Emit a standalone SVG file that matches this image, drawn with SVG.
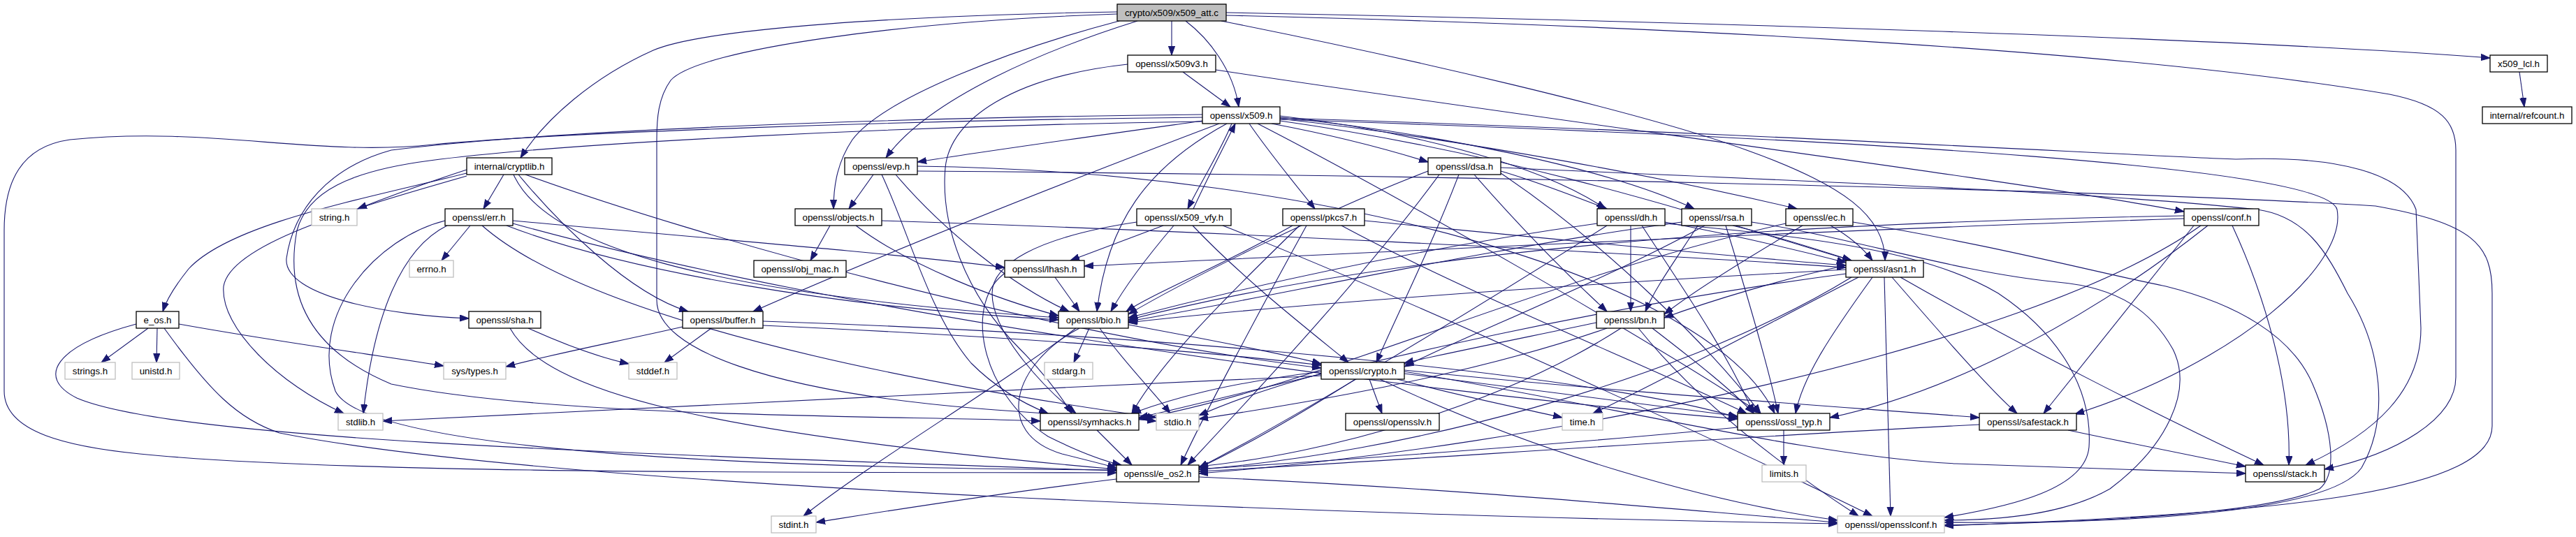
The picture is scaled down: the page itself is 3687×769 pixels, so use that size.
<svg xmlns="http://www.w3.org/2000/svg" width="3687" height="769" viewBox="0 0 3687 769">
<style>
.n rect{fill:#ffffff;stroke:#000000;stroke-width:1.3}
.n.x rect{stroke:#bfbfbf}
.n.r rect{fill:#bfbfbf}
.n text{font-family:"Liberation Sans",Arial,Helvetica,sans-serif;font-size:13.33px;text-anchor:middle;fill:#000000}
#edges path{fill:none;stroke:#191970;stroke-width:1.1;marker-end:url(#a)}
</style>
<defs>
<marker id="a" markerUnits="userSpaceOnUse" markerWidth="14" markerHeight="11" refX="13" refY="5" orient="auto">
<path d="M0,0.4 L13,5 L0,9.6 z" fill="#191970" stroke="#191970" stroke-width="1"/>
</marker>
</defs>
<rect x="0" y="0" width="3687" height="769" fill="#ffffff"/>
<g id="edges">
<path d="M1677,30 L1677,79"/>
<path d="M1697,30 C1730,55 1765,100 1773,153"/>
<path d="M1628,30 C1500,70 1330,140 1268,226"/>
<path d="M1602,30 C1450,70 1265,140 1220,200 C1200,230 1193,262 1193,299"/>
<path d="M1599,17 C1300,22 1010,40 935,72 C850,110 780,170 745,226"/>
<path d="M1599,20 C1300,30 1000,70 960,115 C942,140 940,170 940,200 L940,430 C940,500 1100,560 1400,585 C1500,593 1600,598 1655,603"/>
<path d="M1755,18 C2400,30 3200,55 3564,83"/>
<path d="M1755,22 C2300,35 3000,65 3420,135 C3495,150 3515,175 3515,215 L3515,540 C3515,600 3430,650 3327,672"/>
<path d="M1748,30 C2000,80 2350,160 2500,215 C2640,265 2698,310 2698,373"/>
<path d="M1693,103 L1761,153"/>
<path d="M1740,100 C2200,170 2900,260 3126,303"/>
<path d="M1614,92 C1450,110 1360,170 1353,240 C1346,320 1380,420 1460,500 C1490,530 1515,562 1534,592"/>
<path d="M3606,103 L3613,153"/>
<path d="M1721,173 C1600,190 1420,215 1313,232"/>
<path d="M1763,177 C1745,220 1718,262 1700,299"/>
<path d="M1708,299 C1728,255 1752,210 1768,177"/>
<path d="M1788,177 C1812,212 1852,262 1882,299"/>
<path d="M1820,177 C1900,192 1980,212 2044,232"/>
<path d="M1832,166 C2000,185 2200,232 2298,299"/>
<path d="M1832,168 C2050,190 2300,240 2425,299"/>
<path d="M1832,170 C2100,200 2400,258 2572,299"/>
<path d="M1832,173 C2200,225 2500,330 2650,373"/>
<path d="M1756,177 C1640,240 1585,320 1570,446"/>
<path d="M1745,177 C1500,270 1250,370 1078,446"/>
<path d="M1721,164 C1300,168 800,185 560,215 C470,240 420,300 410,370 C405,425 560,452 671,456"/>
<path d="M1721,168 C1300,172 800,190 620,207 C450,225 300,180 100,200 C30,210 6,260 6,330 L6,560 C6,620 100,640 200,650 C500,680 1200,676 1598,677"/>
<path d="M1721,174 C1300,180 800,205 615,230 C500,245 440,275 425,330 C408,420 440,500 560,550 C800,600 1300,595 1489,603"/>
<path d="M1800,177 C2000,280 2350,480 2520,592"/>
<path d="M1832,171 C2700,200 3330,240 3345,300 C3360,380 3200,520 2970,593"/>
<path d="M1832,169 C2500,190 3000,220 3200,228 C3350,222 3440,250 3458,300 L3465,470 C3465,560 3400,620 3300,666"/>
<path d="M721,250 L692,299"/>
<path d="M668,248 C520,285 330,320 270,385 C250,410 238,430 233,446"/>
<path d="M668,252 C500,300 330,350 320,410 C315,470 400,550 492,592"/>
<path d="M668,243 C610,262 560,280 512,299"/>
<path d="M752,250 C1000,340 1500,480 1891,527"/>
<path d="M742,250 C800,320 900,420 985,446"/>
<path d="M735,250 C780,350 1000,420 1515,455"/>
<path d="M1250,250 L1215,299"/>
<path d="M1282,250 C1350,330 1450,410 1530,446"/>
<path d="M1262,250 C1300,330 1330,450 1390,520 C1430,560 1470,580 1500,592"/>
<path d="M1313,238 C1900,245 2450,400 2540,592"/>
<path d="M1313,245 C2000,250 3000,270 3400,295 C3540,320 3567,350 3567,420 L3567,610 C3567,700 3300,735 2783,753"/>
<path d="M1188,323 L1160,373"/>
<path d="M1262,316 C1700,330 2300,360 2642,383"/>
<path d="M1225,323 C1300,380 1430,430 1515,452"/>
<path d="M673,323 L632,373"/>
<path d="M734,316 C1000,340 1300,365 1438,383"/>
<path d="M640,323 C575,355 535,450 520,592"/>
<path d="M690,323 C800,420 1100,520 1655,598"/>
<path d="M637,316 C540,340 440,450 480,560 C520,640 1000,670 1598,673"/>
<path d="M734,320 C1200,450 2000,560 2487,600"/>
<path d="M725,323 C900,390 1200,440 1515,458"/>
<path d="M1665,323 L1532,373"/>
<path d="M1680,323 C1640,370 1610,410 1590,446"/>
<path d="M1707,323 C1780,400 1870,470 1930,519"/>
<path d="M1627,318 C1480,340 1420,380 1420,420 C1420,480 1500,560 1540,592"/>
<path d="M1750,323 C2000,420 2500,650 2680,739"/>
<path d="M1953,316 C2200,340 2450,365 2642,380"/>
<path d="M1850,323 C1750,380 1650,420 1612,446"/>
<path d="M1870,323 C1800,450 1720,600 1690,666"/>
<path d="M1860,323 C1750,430 1660,520 1620,592"/>
<path d="M1920,323 C2100,420 2350,520 2500,592"/>
<path d="M2148,245 C2200,260 2250,280 2300,299"/>
<path d="M2110,250 C2180,330 2250,400 2300,446"/>
<path d="M2088,250 C2050,350 2000,450 1970,519"/>
<path d="M2044,245 C1900,300 1700,400 1615,450"/>
<path d="M2060,250 C1950,400 1780,580 1700,666"/>
<path d="M2148,248 C2300,350 2450,500 2520,592"/>
<path d="M2148,240 C2600,260 3000,275 3231,300 C3300,310 3330,360 3360,420 C3410,500 3420,600 3380,670 C3330,740 3000,750 2783,748"/>
<path d="M2334,323 L2334,446"/>
<path d="M2383,318 C2500,340 2580,360 2642,376"/>
<path d="M2286,320 C2000,360 1750,420 1615,455"/>
<path d="M2300,323 C2100,450 1850,600 1716,670"/>
<path d="M2350,323 C2400,400 2470,500 2510,592"/>
<path d="M2383,320 C2600,340 2760,360 2860,420 C2950,480 2995,560 2990,640 C2985,700 2880,725 2783,741"/>
<path d="M2430,323 C2400,370 2370,410 2355,446"/>
<path d="M2480,323 C2550,340 2610,360 2650,373"/>
<path d="M2407,318 C2100,360 1800,430 1615,460"/>
<path d="M2440,323 C2300,400 2100,480 2010,525"/>
<path d="M2470,323 C2500,420 2530,520 2545,592"/>
<path d="M2507,318 C2650,340 2800,390 2945,404 C3035,412 3080,447 3110,500 C3140,560 3100,640 3020,700 C2950,740 2850,745 2783,745"/>
<path d="M2620,323 C2650,340 2670,360 2680,373"/>
<path d="M2556,320 C2200,400 1900,550 1630,600"/>
<path d="M2580,323 C2500,370 2420,420 2382,450"/>
<path d="M2652,318 C2850,350 3000,390 3100,410 C3200,435 3280,480 3310,550 C3340,620 3345,680 3320,700 C3250,735 3000,748 2783,752"/>
<path d="M3126,309 C2500,320 2000,360 1615,458"/>
<path d="M3126,313 C2600,330 2000,360 1552,381"/>
<path d="M3195,323 C3240,420 3280,550 3276,666"/>
<path d="M3140,323 L2925,592"/>
<path d="M3150,323 C2900,500 2200,640 1716,678"/>
<path d="M3160,323 C3000,450 2800,560 2619,598"/>
<path d="M1510,397 L1545,446"/>
<path d="M1440,390 C1380,430 1400,560 1500,625 C1550,650 1580,660 1605,666"/>
<path d="M2660,397 C2500,480 2350,560 2280,592"/>
<path d="M2650,397 C2400,550 2000,650 1716,672"/>
<path d="M2697,397 L2706,739"/>
<path d="M2642,386 C2200,410 1800,440 1615,462"/>
<path d="M2720,397 C2900,500 3100,600 3240,666"/>
<path d="M2708,397 C2780,480 2850,560 2887,592"/>
<path d="M2642,392 C2200,450 1800,560 1630,598"/>
<path d="M2680,397 C2620,480 2580,540 2570,592"/>
<path d="M2642,380 C2550,400 2450,430 2382,455"/>
<path d="M212,470 L145,519"/>
<path d="M225,470 L224,519"/>
<path d="M256,464 C400,490 550,510 635,524"/>
<path d="M195,464 C80,495 50,540 110,570 C250,630 900,650 1598,674"/>
<path d="M235,470 C300,560 340,600 400,620 C800,700 2000,740 2630,750"/>
<path d="M730,470 C780,560 1000,620 1598,672"/>
<path d="M756,470 C800,490 850,510 900,521"/>
<path d="M1018,470 L951,519"/>
<path d="M977,468 C880,490 800,505 724,525"/>
<path d="M1092,460 C1700,480 2300,540 2487,598"/>
<path d="M1092,466 C1400,480 1700,500 1891,523"/>
<path d="M1559,470 L1537,519"/>
<path d="M1574,470 C1610,520 1650,560 1675,592"/>
<path d="M1545,470 C1450,520 1420,620 1520,650 C1560,660 1580,665 1598,670"/>
<path d="M1615,465 C1750,490 1850,510 1891,521"/>
<path d="M1540,470 C1420,560 1250,660 1150,739"/>
<path d="M2285,462 C2150,490 2050,510 2010,520"/>
<path d="M2300,470 C2100,540 1850,580 1716,600"/>
<path d="M2320,470 C2150,580 1900,650 1716,668"/>
<path d="M2365,470 C2430,520 2480,560 2510,592"/>
<path d="M2345,470 C2450,600 2600,700 2660,739"/>
<path d="M1960,543 L1978,592"/>
<path d="M2000,543 C2100,570 2180,585 2236,598"/>
<path d="M1891,538 C1400,560 800,590 548,603"/>
<path d="M1940,543 C1850,600 1780,640 1716,670"/>
<path d="M1891,535 C1800,560 1750,580 1716,595"/>
<path d="M2010,530 C2300,560 2600,580 2833,598"/>
<path d="M2010,535 C2200,560 2350,580 2487,596"/>
<path d="M1975,543 C2200,650 2450,720 2630,745"/>
<path d="M1891,532 C1750,550 1680,570 1620,592"/>
<path d="M2010,532 C2300,580 2600,655 2800,664 C3000,670 3120,675 3214,678"/>
<path d="M1570,616 L1620,666"/>
<path d="M2553,616 L2553,666"/>
<path d="M2487,612 C2200,640 1900,660 1716,672"/>
<path d="M2960,616 C3050,635 3150,655 3214,668"/>
<path d="M2833,608 C2400,630 2000,660 1716,675"/>
<path d="M1716,683 C2100,700 2400,730 2630,748"/>
<path d="M1598,686 C1400,710 1250,735 1168,748"/>
</g>
<g id="node-x509_att_c" class="n r"><rect x="1599" y="6" width="156" height="24"/><text x="1677" y="22.5">crypto/x509/x509_att.c</text></g>
<g id="node-x509v3_h" class="n"><rect x="1614" y="79" width="126" height="24"/><text x="1677" y="95.5">openssl/x509v3.h</text></g>
<g id="node-x509_lcl_h" class="n"><rect x="3564" y="79" width="82" height="24"/><text x="3605" y="95.5">x509_lcl.h</text></g>
<g id="node-x509_h" class="n"><rect x="1721" y="153" width="111" height="24"/><text x="1776.5" y="169.5">openssl/x509.h</text></g>
<g id="node-refcount_h" class="n"><rect x="3553" y="153" width="128" height="24"/><text x="3617" y="169.5">internal/refcount.h</text></g>
<g id="node-cryptlib_h" class="n"><rect x="668" y="226" width="122" height="24"/><text x="729" y="242.5">internal/cryptlib.h</text></g>
<g id="node-evp_h" class="n"><rect x="1209" y="226" width="104" height="24"/><text x="1261" y="242.5">openssl/evp.h</text></g>
<g id="node-dsa_h" class="n"><rect x="2044" y="226" width="104" height="24"/><text x="2096" y="242.5">openssl/dsa.h</text></g>
<g id="node-string_h" class="n x"><rect x="446" y="299" width="65" height="24"/><text x="478.5" y="315.5">string.h</text></g>
<g id="node-err_h" class="n"><rect x="637" y="299" width="97" height="24"/><text x="685.5" y="315.5">openssl/err.h</text></g>
<g id="node-objects_h" class="n"><rect x="1138" y="299" width="124" height="24"/><text x="1200" y="315.5">openssl/objects.h</text></g>
<g id="node-x509_vfy_h" class="n"><rect x="1627" y="299" width="135" height="24"/><text x="1694.5" y="315.5">openssl/x509_vfy.h</text></g>
<g id="node-pkcs7_h" class="n"><rect x="1836" y="299" width="117" height="24"/><text x="1894.5" y="315.5">openssl/pkcs7.h</text></g>
<g id="node-dh_h" class="n"><rect x="2286" y="299" width="97" height="24"/><text x="2334.5" y="315.5">openssl/dh.h</text></g>
<g id="node-rsa_h" class="n"><rect x="2407" y="299" width="100" height="24"/><text x="2457" y="315.5">openssl/rsa.h</text></g>
<g id="node-ec_h" class="n"><rect x="2556" y="299" width="96" height="24"/><text x="2604" y="315.5">openssl/ec.h</text></g>
<g id="node-conf_h" class="n"><rect x="3126" y="299" width="107" height="24"/><text x="3179.5" y="315.5">openssl/conf.h</text></g>
<g id="node-errno_h" class="n x"><rect x="586" y="373" width="63" height="24"/><text x="617.5" y="389.5">errno.h</text></g>
<g id="node-obj_mac_h" class="n"><rect x="1079" y="373" width="132" height="24"/><text x="1145" y="389.5">openssl/obj_mac.h</text></g>
<g id="node-lhash_h" class="n"><rect x="1438" y="373" width="114" height="24"/><text x="1495" y="389.5">openssl/lhash.h</text></g>
<g id="node-asn1_h" class="n"><rect x="2642" y="373" width="111" height="24"/><text x="2697.5" y="389.5">openssl/asn1.h</text></g>
<g id="node-e_os_h" class="n"><rect x="195" y="446" width="61" height="24"/><text x="225.5" y="462.5">e_os.h</text></g>
<g id="node-sha_h" class="n"><rect x="671" y="446" width="103" height="24"/><text x="722.5" y="462.5">openssl/sha.h</text></g>
<g id="node-buffer_h" class="n"><rect x="977" y="446" width="115" height="24"/><text x="1034.5" y="462.5">openssl/buffer.h</text></g>
<g id="node-bio_h" class="n"><rect x="1515" y="446" width="100" height="24"/><text x="1565" y="462.5">openssl/bio.h</text></g>
<g id="node-bn_h" class="n"><rect x="2285" y="446" width="97" height="24"/><text x="2333.5" y="462.5">openssl/bn.h</text></g>
<g id="node-strings_h" class="n x"><rect x="93" y="519" width="72" height="24"/><text x="129" y="535.5">strings.h</text></g>
<g id="node-unistd_h" class="n x"><rect x="189" y="519" width="68" height="24"/><text x="223" y="535.5">unistd.h</text></g>
<g id="node-sys_types_h" class="n x"><rect x="635" y="519" width="89" height="24"/><text x="679.5" y="535.5">sys/types.h</text></g>
<g id="node-stddef_h" class="n x"><rect x="900" y="519" width="69" height="24"/><text x="934.5" y="535.5">stddef.h</text></g>
<g id="node-stdarg_h" class="n x"><rect x="1495" y="519" width="69" height="24"/><text x="1529.5" y="535.5">stdarg.h</text></g>
<g id="node-crypto_h" class="n"><rect x="1891" y="519" width="119" height="24"/><text x="1950.5" y="535.5">openssl/crypto.h</text></g>
<g id="node-stdlib_h" class="n x"><rect x="484" y="592" width="64" height="24"/><text x="516" y="608.5">stdlib.h</text></g>
<g id="node-symhacks_h" class="n"><rect x="1489" y="592" width="141" height="24"/><text x="1559.5" y="608.5">openssl/symhacks.h</text></g>
<g id="node-stdio_h" class="n x"><rect x="1655" y="592" width="61" height="24"/><text x="1685.5" y="608.5">stdio.h</text></g>
<g id="node-opensslv_h" class="n"><rect x="1926" y="592" width="134" height="24"/><text x="1993" y="608.5">openssl/opensslv.h</text></g>
<g id="node-time_h" class="n x"><rect x="2236" y="592" width="58" height="24"/><text x="2265" y="608.5">time.h</text></g>
<g id="node-ossl_typ_h" class="n"><rect x="2487" y="592" width="132" height="24"/><text x="2553" y="608.5">openssl/ossl_typ.h</text></g>
<g id="node-safestack_h" class="n"><rect x="2833" y="592" width="139" height="24"/><text x="2902.5" y="608.5">openssl/safestack.h</text></g>
<g id="node-e_os2_h" class="n"><rect x="1598" y="666" width="118" height="24"/><text x="1657" y="682.5">openssl/e_os2.h</text></g>
<g id="node-limits_h" class="n x"><rect x="2522" y="666" width="63" height="24"/><text x="2553.5" y="682.5">limits.h</text></g>
<g id="node-stack_h" class="n"><rect x="3214" y="666" width="113" height="24"/><text x="3270.5" y="682.5">openssl/stack.h</text></g>
<g id="node-stdint_h" class="n x"><rect x="1104" y="739" width="64" height="24"/><text x="1136" y="755.5">stdint.h</text></g>
<g id="node-opensslconf_h" class="n x"><rect x="2630" y="739" width="153" height="24"/><text x="2706.5" y="755.5">openssl/opensslconf.h</text></g>
</svg>
